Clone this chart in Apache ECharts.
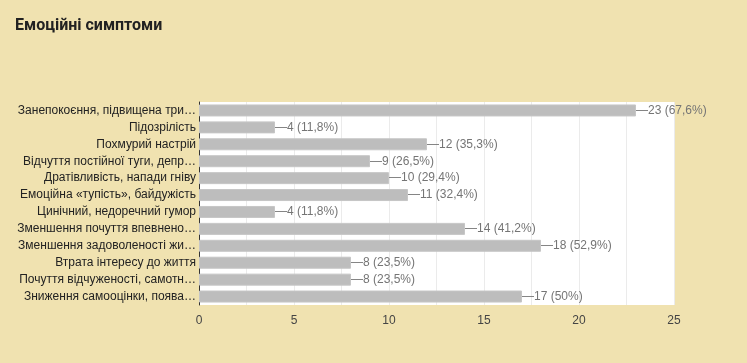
<!DOCTYPE html>
<html><head><meta charset="utf-8">
<script src="https://cdn.jsdelivr.net/npm/echarts@6/dist/echarts.min.js"></script>
<style>html,body{margin:0;padding:0;background:#f0e2b0;}#c{width:747px;height:363px;}</style>
</head><body><div id="c"></div>
<script>
const title = 'Емоційні симптоми';
const categories = [
  'Занепокоєння, підвищена три…',
  'Підозрілість',
  'Похмурий настрій',
  'Відчуття постійної туги, депр…',
  'Дратівливість, напади гніву',
  'Емоційна «тупість», байдужість',
  'Цинічний, недоречний гумор',
  'Зменшення почуття впевнено…',
  'Зменшення задоволеності жи…',
  'Втрата інтересу до життя',
  'Почуття відчуженості, самотн…',
  'Зниження самооцінки, поява…'
];
const values = [23, 4, 12, 9, 10, 11, 4, 14, 18, 8, 8, 17];
const percents = ['67,6%', '11,8%', '35,3%', '26,5%', '29,4%', '32,4%', '11,8%', '41,2%', '52,9%', '23,5%', '23,5%', '50%'];
const xTicks = [0, 5, 10, 15, 20, 25];

const chart = echarts.init(document.getElementById('c'));
chart.setOption({
  backgroundColor: '#f0e2b0',
  animation: false,
  title: {
    text: title, left: 15, top: 18, padding: 0,
    textStyle: {fontFamily: 'Roboto', fontWeight: 'bold', fontSize: 16, color: '#212121'}
  },
  grid: {left: 199, right: 73, top: 102, height: 203, show: true, backgroundColor: '#ffffff', borderWidth: 0},
  xAxis: {
    type: 'value', min: 0, max: 25, interval: 2.5,
    axisLine: {show: false}, axisTick: {show: false},
    splitLine: {lineStyle: {color: '#ebebeb', width: 1}},
    axisLabel: {
      margin: 10, fontFamily: 'Liberation Sans', fontSize: 12, color: '#444',
      formatter: v => xTicks.includes(v) ? String(v) : ''
    }
  },
  yAxis: {
    type: 'category', data: categories, inverse: true,
    axisLine: {show: true, lineStyle: {color: '#333', width: 1}},
    axisTick: {show: false},
    axisLabel: {margin: 3, fontFamily: 'Liberation Sans', fontSize: 12, color: '#222'}
  },
  series: [{
    type: 'bar', data: values, barWidth: 12,
    itemStyle: {color: '#bdbdbd', borderColor: '#c6c6c6', borderWidth: 1},
    label: {
      show: true, position: 'right', distance: 0,
      fontFamily: 'Liberation Sans', fontSize: 12, color: '#757575',
      formatter: p => '—' + p.value + ' (' + percents[p.dataIndex] + ')'
    }
  }]
});
</script></body></html>
